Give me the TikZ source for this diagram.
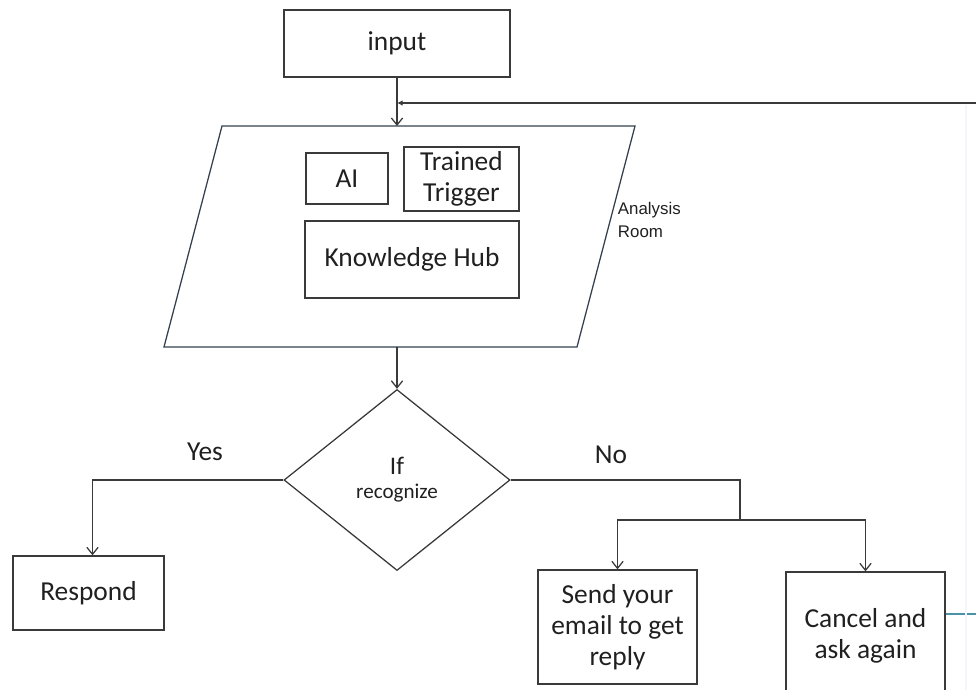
\documentclass[tikz,border=0pt]{standalone}
\usepackage{fontspec}
\setmainfont{Carlito}
\newfontfamily\arialish{Liberation Sans}
\usetikzlibrary{positioning,arrows.meta,shapes.geometric}
\definecolor{ink}{HTML}{202020}
\definecolor{edge}{HTML}{3A3A3A}
\definecolor{slate}{HTML}{34404E}
\definecolor{loopteal}{HTML}{4A93A8}
\definecolor{ghost}{HTML}{F3F7FB}
\tikzset{wire/.style={draw=edge, line width=0.9pt}}

\begin{document}
\begin{tikzpicture}[x=0.025cm, y=-0.025cm,
    box/.style={draw=edge, line width=0.9pt, text=ink, font=\fontsize{19.5}{22}\selectfont, align=center, inner sep=0pt},
    link/.style={wire, -{Straight Barb[length=5pt,width=8pt]}},
    tag/.style={text=ink, font=\fontsize{19.5}{22}\selectfont}]
    \useasboundingbox (0,0) rectangle (976,690);
    \clip (0,0) rectangle (976,690);
    % input and analysis room
    \node[box, minimum width=5.65cm, minimum height=1.675cm] (input) at (397,43.5) {input};
    \draw[slate, line width=0.9pt] (222,126) -- (635,126) -- (577,347) -- (164,347) -- cycle;
    \coordinate (roomtop) at (397,126); \coordinate (roombot) at (397,347);
    \node[box, minimum width=2.05cm, minimum height=1.275cm] (ai) at (347,178.5) {AI};
    \node[box, minimum width=2.875cm, minimum height=1.6cm] (trigger) at (461.5,179) {Trained\\Trigger};
    \node[box, minimum width=5.35cm, minimum height=1.925cm] (hub) at (412,259.5) {Knowledge Hub};
    \node[text=ink, font=\arialish\fontsize{12}{16}\selectfont, align=left, anchor=west] (roomtag) at (613,220) {Analysis\\Room};
    % decision
    \node[diamond, draw=edge, line width=0.9pt, minimum width=5.65cm, minimum height=4.525cm, inner sep=0pt,
      align=center, text=ink] (decide) at (397,480)
      {{\fontsize{18}{18}\selectfont If}\\[5pt]{\fontsize{15}{18}\selectfont recognize}};
    \node[tag] (yes) at (205,452) {Yes};
    \node[tag] (no) at (611,455) {No};
    % outcomes
    \node[box, minimum width=3.775cm, minimum height=1.85cm] (respond) at (88.5,593) {Respond};
    \node[box, minimum width=3.975cm, minimum height=2.85cm] (send) at (617.5,627) {Send your\\email to get\\reply};
    \node[box, minimum width=3.975cm, minimum height=3.2cm] (cancel) at (865.5,636) {Cancel and\\ask again};
    \coordinate (split) at (740,520);
    % connectors
    \draw[link] (input) -- (roomtop);
    \draw[link] (roombot) -- (decide);
    \draw[link] (decide.west) -| ([xshift=0.1cm]respond.north);
    \draw[wire] (decide.east) -| (split);
    \draw[link] (split) -| (send.north);
    \draw[link] (split) -| (cancel.north);
    \coordinate (loopout) at (976,103); \coordinate (loopin) at (976,614);
    \draw[wire, -{Latex[length=4pt,width=4pt]}] (loopout) -- (loopout -| input.south);
    \draw[loopteal, line width=0.8pt] (loopin -| cancel.east) -- (loopin);
    \draw[ghost, line width=1.5pt] (966,105) -- (966,690);
\end{tikzpicture}
\end{document}
